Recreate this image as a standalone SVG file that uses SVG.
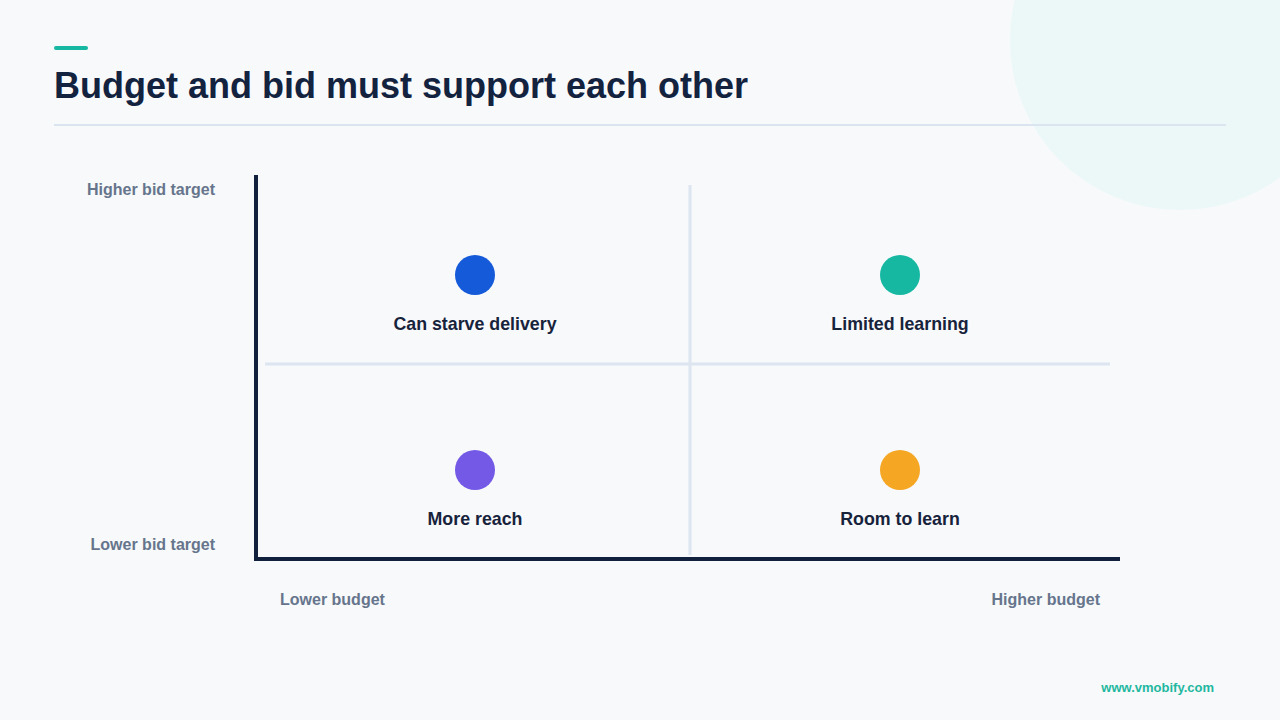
<svg xmlns="http://www.w3.org/2000/svg" width="1280" height="720" viewBox="0 0 1280 720">
<style>
.t{font-family:"Liberation Sans",Arial,sans-serif;font-weight:bold}
.title{font-size:36px;fill:#13233f}
.lbl{font-size:17.8px;fill:#17233b;text-anchor:middle}
.ax{font-size:16px;fill:#66758c}
.grid{stroke:#dde6f0;stroke-width:3;fill:none}
.axis{stroke:#10203d;stroke-width:4;fill:none}
</style>
<rect width="1280" height="720" fill="#f7f9fb"/>
<circle cx="1180" cy="40" r="170" fill="#ebf8f7"/>
<rect x="54" y="46" width="34" height="4" rx="2" fill="#16b8a2"/>
<text class="t title" x="54" y="98">Budget and bid must support each other</text>
<line x1="54" y1="125" x2="1226" y2="125" stroke="#dbe5ef" stroke-width="2"/>
<g id="connectors">
<line class="grid" x1="690" y1="185" x2="690" y2="555"/>
<line class="grid" x1="265" y1="364" x2="1110" y2="364"/>
<polyline class="axis" points="256,175 256,559 1120,559"/>
</g>
<g id="axis-labels">
<text class="t ax" x="215" y="195" text-anchor="end">Higher bid target</text>
<text class="t ax" x="215" y="550" text-anchor="end">Lower bid target</text>
<text class="t ax" x="280" y="605">Lower budget</text>
<text class="t ax" x="1100" y="605" text-anchor="end">Higher budget</text>
</g>
<g id="q1"><circle cx="475" cy="275" r="20" fill="#155ad8"/><text class="t lbl" x="475" y="330">Can starve delivery</text></g>
<g id="q2"><circle cx="900" cy="275" r="20" fill="#16b8a2"/><text class="t lbl" x="900" y="330">Limited learning</text></g>
<g id="q3"><circle cx="475" cy="470" r="20" fill="#7459e6"/><text class="t lbl" x="475" y="525">More reach</text></g>
<g id="q4"><circle cx="900" cy="470" r="20" fill="#f5a623"/><text class="t lbl" x="900" y="525">Room to learn</text></g>
<text class="t" x="1214" y="692" font-size="13" fill="#1fb8a0" text-anchor="end">www.vmobify.com</text>
</svg>
